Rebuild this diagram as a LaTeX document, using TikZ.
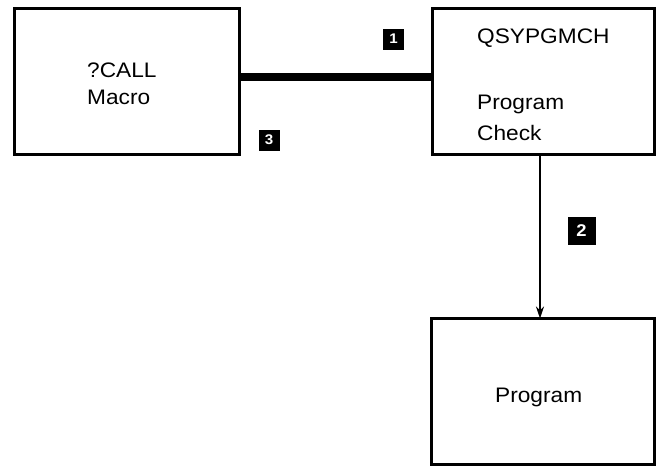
\documentclass[tikz,border=0pt]{standalone}
\usepackage{fontspec}
\setmainfont{Liberation Sans}[FakeStretch=1.08]
\usetikzlibrary{arrows.meta}
\begin{document}
\begin{tikzpicture}[x=1pt,y=-1pt,
  box/.style={draw,line width=3pt,inner sep=0pt,outer sep=0pt,
    minimum width=#1,minimum height=146pt},
  txt/.style={anchor=base west,inner sep=0pt,font=\fontsize{21}{25}\selectfont},
  tag/.style={fill=black,text=white,inner sep=0pt,minimum size=#1,
    font=\fontsize{14}{16}\selectfont\bfseries},
  conn/.style={line width=8pt},
  flow/.style={line width=1.5pt,-{Stealth[length=12pt,width=8pt]}}]
\useasboundingbox (0,0) rectangle (656,466);

% boxes
\node[box=225pt] (call) at (126.5,81) {};
\node[box=222pt] (chk)  at (543,81.5) {};
\node[box=223pt] (prog) at (542.5,391.5) {};

% box texts
\node[txt] (t1) at (87,77)  {?CALL};
\node[txt] (t2) at (87,104) {Macro};
\node[txt] (t3) at (477,43) {QSYPGMCH};
\node[txt] (t4) at (477,109) {Program};
\node[txt] (t5) at (477,140) {Check};
\node[txt] (t6) at (495,402) {Program};

% connectors
\draw[conn] ([yshift=4pt]call.east) -- ([yshift=4pt]call.east -| chk.west);
\draw[flow] ([xshift=-3pt]chk.south) -- ([xshift=-3pt]chk.south |- prog.north);

% numbered tags
\node[tag=21pt] (n1) at (393.5,39) {1};
\node[tag=28pt,font=\fontsize{17}{19}\selectfont\bfseries] (n2) at (581.5,231) {2};
\node[tag=21pt] (n3) at (269,140) {3};
\end{tikzpicture}
\end{document}
